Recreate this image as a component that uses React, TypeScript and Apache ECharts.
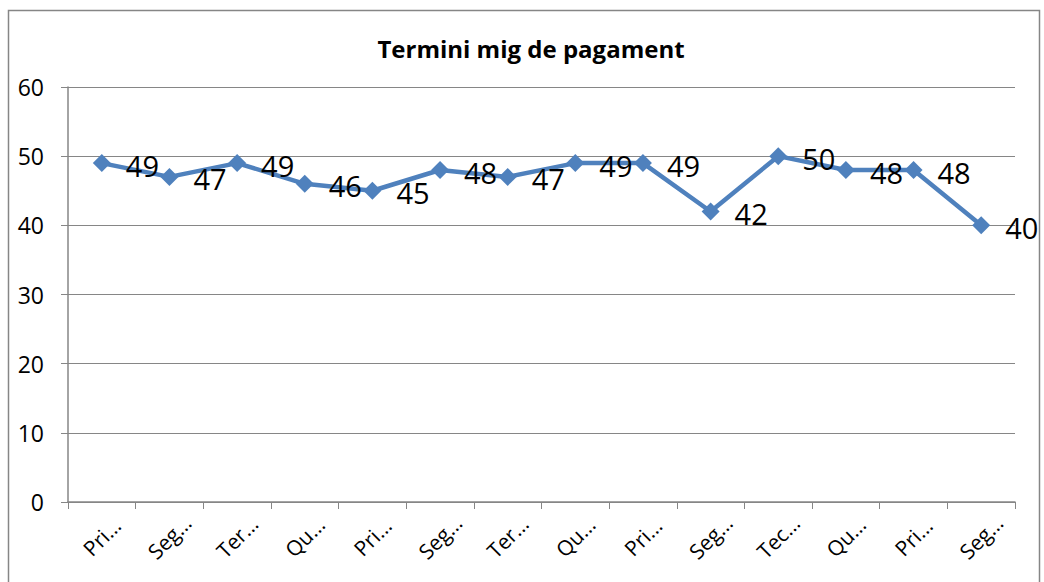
import React, { useEffect, useRef } from "react";
import * as echarts from "echarts";

const categories = ["Pri…", "Seg…", "Ter…", "Qu…", "Pri…", "Seg…", "Ter…", "Qu…", "Pri…", "Seg…", "Tec…", "Qu…", "Pri…", "Seg…"];
const values = [49, 47, 49, 46, 45, 48, 47, 49, 49, 42, 50, 48, 48, 40];
const title = "Termini mig de pagament";

export default function App() {
  const ref = useRef<HTMLDivElement>(null);
  useEffect(() => {
    const chart = echarts.init(ref.current!, null, { renderer: "svg" });
    chart.setOption({
      animation: false,
      backgroundColor: "#fff",
      title: {
        text: title,
        left: 526,
        textAlign: "center",
        top: 31,
        textStyle: { fontFamily: "Open Sans", fontWeight: "bold", fontSize: 24, color: "#000" },
      },
      graphic: [
        {
          type: "rect",
          shape: { x: 8.5, y: 10.5, width: 1031, height: 590 },
          style: { fill: "none", stroke: "#868686", lineWidth: 1.5 },
          silent: true,
        },
      ],
      grid: { left: 68, right: 29, top: 87, bottom: 80 },
      xAxis: {
        type: "category",
        data: categories,
        boundaryGap: true,
        axisLine: { lineStyle: { color: "#868686", width: 1.5 } },
        axisTick: { show: true, length: 7, lineStyle: { color: "#868686" } },
        axisLabel: {
          rotate: 45,
          align: "center",
          verticalAlign: "middle",
          fontSize: 21,
          color: "#000",
          fontFamily: "Open Sans",
          margin: 35,
        },
      },
      yAxis: {
        type: "value",
        min: 0,
        max: 60,
        interval: 10,
        axisLine: { show: true, lineStyle: { color: "#868686", width: 1.5 } },
        axisTick: { show: true, length: 7, lineStyle: { color: "#868686" } },
        axisLabel: { fontSize: 23, color: "#000", fontFamily: "Open Sans", margin: 24 },
        splitLine: { lineStyle: { color: "#868686", width: 1.2 } },
      },
      series: [
        {
          type: "line",
          data: values,
          symbol: "diamond",
          symbolSize: 18,
          itemStyle: { color: "#4F81BD" },
          lineStyle: { color: "#4F81BD", width: 4.5 },
          label: {
            show: true,
            position: "right",
            distance: 15,
            offset: [0, 2],
            fontSize: 29,
            color: "#000",
            fontFamily: "Open Sans",
          },
        },
      ],
    });
    return () => chart.dispose();
  }, []);
  return <div ref={ref} style={{ position: "absolute", left: 0, top: 0, width: 1044, height: 582 }} />;
}
